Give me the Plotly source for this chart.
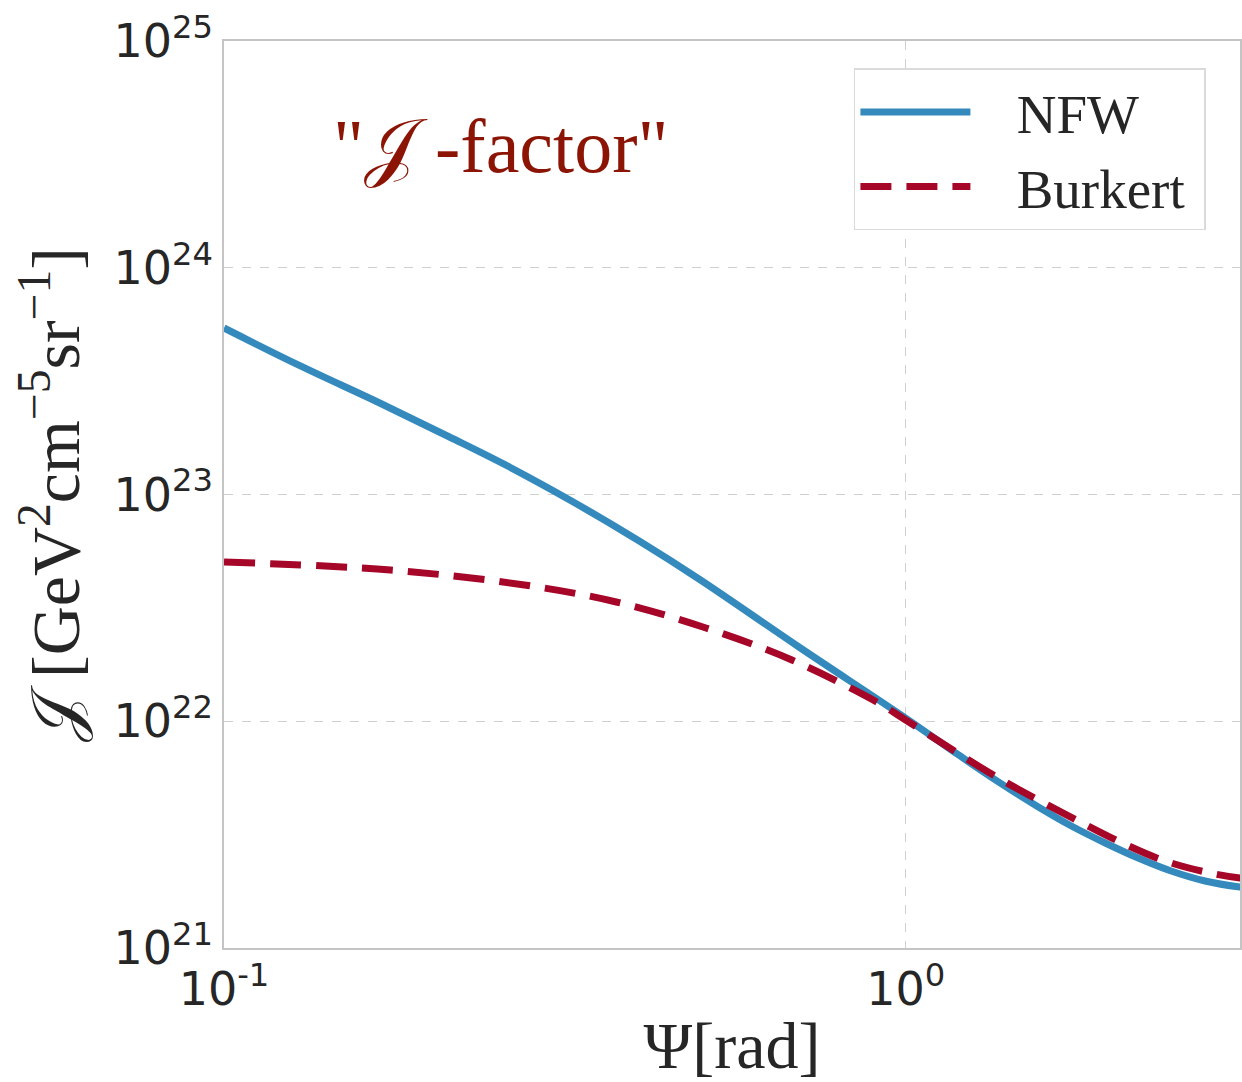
import plotly.graph_objects as go

# Data
psi_nfw = [0.1, 0.1292, 0.1692, 0.2142, 0.2623, 0.3254, 0.4066, 0.4975, 0.6973, 1.0, 1.1958, 1.368,
           1.5657, 1.7504, 1.9629, 2.1934, 2.4520, 2.7497, 3.094, 3.1416]
j_nfw = [5.424e23, 3.70e23, 2.532e23, 1.793e23, 1.322e23, 9.27e22, 6.235e22, 4.24e22, 2.126e22, 1.033e22,
         7.10e21, 5.40e21, 4.186e21, 3.452e21, 2.905e21, 2.494e21, 2.186e21, 1.975e21, 1.858e21, 1.85e21]

psi_bur = [0.1, 0.1755, 0.2759, 0.3762, 0.5094, 0.6809, 0.9069, 1.0, 1.368, 1.8043, 2.0785, 2.403,
           2.7965, 3.094, 3.1416]
j_bur = [5.04e22, 4.645e22, 3.99e22, 3.357e22, 2.578e22, 1.862e22, 1.216e22, 1.013e22,
         5.62e21, 3.595e21, 2.905e21, 2.419e21, 2.142e21, 2.036e21, 2.03e21]

series_names = ["NFW", "Burkert"]
x_tickvals = [0.1, 1]
x_ticktext = ["10<sup>-1</sup>", "10<sup>0</sup>"]
y_tickvals = [1e21, 1e22, 1e23, 1e24, 1e25]
y_ticktext = ["10<sup>21</sup>", "10<sup>22</sup>", "10<sup>23</sup>", "10<sup>24</sup>", "10<sup>25</sup>"]

pad = "\u00a0\u00a0\u00a0"
fig = go.Figure()
fig.add_trace(go.Scatter(x=psi_nfw, y=j_nfw, mode="lines", name=pad + series_names[0] + "\u00a0",
                         line=dict(color="#348ABD", width=7, shape="spline", smoothing=1.0)))
fig.add_trace(go.Scatter(x=psi_bur, y=j_bur, mode="lines", name=pad + series_names[1] + "\u00a0",
                         line=dict(color="#A60628", width=7, dash="31px,15px", shape="spline")))

tickfont = dict(family="DejaVu Sans", size=46, color="#262626")
serif = "Liberation Serif"

fig.update_layout(
    width=1242, height=1082,
    margin=dict(l=224, r=0, t=41, b=134),
    plot_bgcolor="white", paper_bgcolor="white",
    showlegend=True,
    legend=dict(x=0.620, y=0.970, xanchor="left", yanchor="top",
                bgcolor="white", bordercolor="#dadada", borderwidth=1.5,
                font=dict(family=serif, size=55, color="#262626"),
                itemwidth=110, tracegroupgap=0),
    xaxis=dict(type="log", range=[-1, 0.4905],
               tickvals=x_tickvals, ticktext=x_ticktext, tickfont=tickfont,
               showgrid=True, gridcolor="#cfcfcf", griddash="dash", gridwidth=1,
               showline=True, linecolor="#c4c4c4", linewidth=1.5, mirror=True,
               ticks="", zeroline=False,
               title=dict(text="Ψ[rad]", font=dict(family=serif, size=66, color="#262626"), standoff=16)),
    yaxis=dict(type="log", range=[21, 25],
               tickvals=y_tickvals, ticktext=y_ticktext, tickfont=tickfont,
               showgrid=True, gridcolor="#cfcfcf", griddash="dash", gridwidth=1,
               showline=True, linecolor="#c4c4c4", linewidth=1.5, mirror=True,
               ticks="", zeroline=False,
               title=dict(text="𝒥 [GeV<sup>2</sup>cm<sup>−5</sup>sr<sup>−1</sup>]",
                          font=dict(family=serif, size=68, color="#262626"), standoff=12)),
)

fig.add_annotation(text="\"𝒥 -factor\"", xref="paper", yref="paper",
                   x=0.105, y=0.933, showarrow=False,
                   font=dict(family=serif, size=76, color="#8b1405"))

fig.write_html("out.html")
